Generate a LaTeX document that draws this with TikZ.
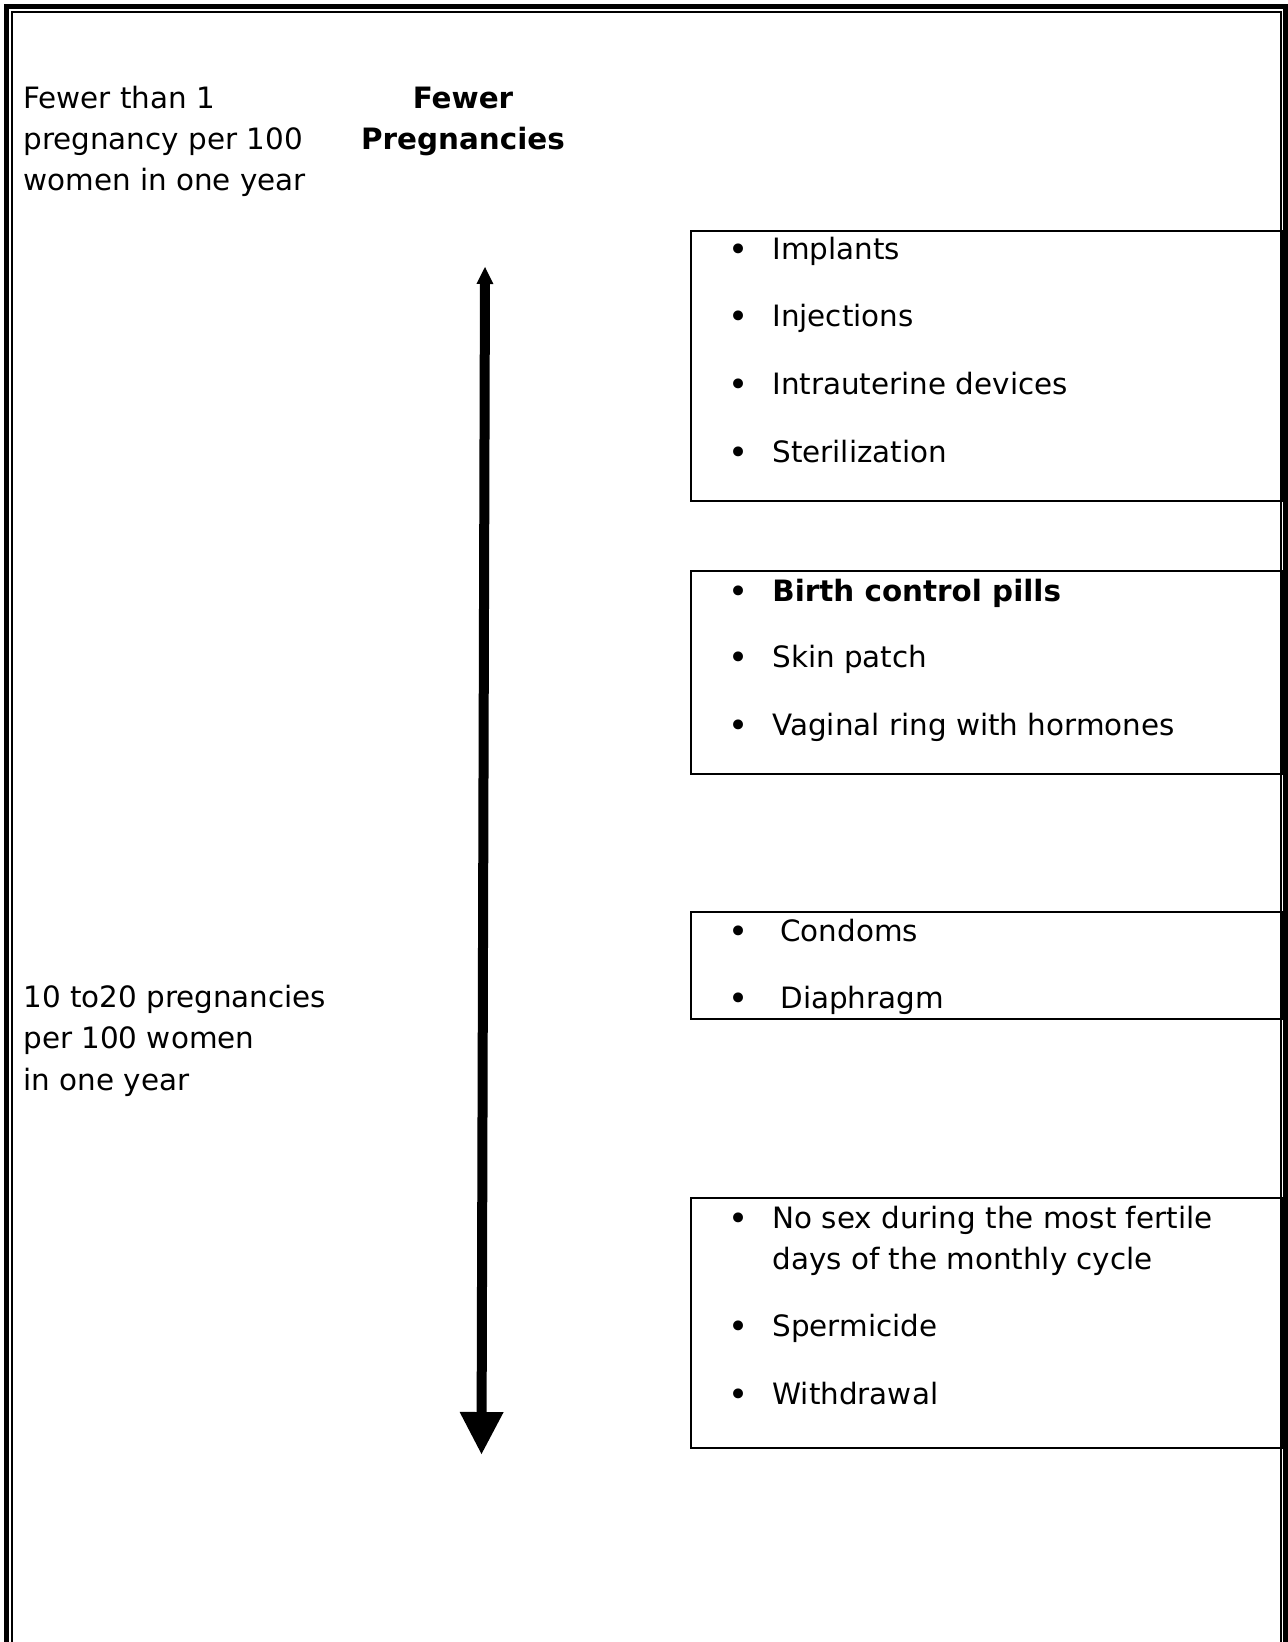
\documentclass[tikz,border=0pt]{standalone}
\usepackage{fontspec}
\setmainfont{DejaVu Sans}
\usetikzlibrary{arrows.meta,positioning}

\begin{document}
\begin{tikzpicture}[x=0.5pt,y=-0.5pt,
  txt/.style={anchor=base west,inner sep=0pt,align=left,font=\fontsize{14.7pt}{20.6pt}\selectfont},
  dot/.style={anchor=base,inner sep=0pt,yshift=-1pt,font=\fontsize{17pt}{20.6pt}\selectfont},
  panel/.style={draw,line width=1pt,anchor=north west,inner sep=0pt,minimum width=295.5pt},
  a/.style={line width=5pt,{Triangle[width=8.5pt,length=8.5pt,line width=0pt]}-{Triangle[width=22pt,length=21pt,line width=0pt]}}]
  \useasboundingbox (0,0) rectangle (1288,1642);
  % page frame, open at the bottom
  \draw[line width=2.5pt] (6.5,1642) -- (6.5,6.5) -- (1285,6.5) -- (1285,1642);
  \draw[line width=1pt] (12,1642) -- (12,12) -- (1281,12) -- (1281,1642);

  % left column (multi-line nodes sit on their last baseline)
  \node[txt] (rlow) at (23,191) {Fewer than 1\\pregnancy per 100\\women in one year};
  \node[txt,anchor=base,align=center] (fewer) at (463,150) {\textbf{Fewer}\\\textbf{Pregnancies}};
  \node[txt] (rhigh) at (23,1090) {10 to20 pregnancies\\per 100 women\\in one year};

  % scale arrow
  \coordinate (hi) at (485,267);
  \coordinate (lo) at (481.5,1454);
  \draw[a] (hi) -- (lo);

  % method boxes
  \node[panel,minimum height=135pt] (b1) at (690,230) {};
  \node[panel,minimum height=101.5pt] (b2) at (690,570) {};
  \node[panel,minimum height=53.5pt] (b3) at (690,911) {};
  \node[panel,minimum height=125pt] (b4) at (690,1197) {};

  \node[dot] (d11) at (739,259.5) {•}; \node[txt] (m11) at (772,259.5) {Implants};
  \node[dot] (d12) at (739,326.5) {•}; \node[txt] (m12) at (772,326.5) {Injections};
  \node[dot] (d13) at (739,394.5) {•}; \node[txt] (m13) at (772,394.5) {Intrauterine devices};
  \node[dot] (d14) at (739,462.5) {•}; \node[txt] (m14) at (772,462.5) {Sterilization};

  \node[dot] (d21) at (739,601.5) {•}; \node[txt] (m21) at (772,601.5) {\textbf{Birth control pills}};
  \node[dot] (d22) at (739,667.5) {•}; \node[txt] (m22) at (772,667.5) {Skin patch};
  \node[dot] (d23) at (739,735.5) {•}; \node[txt] (m23) at (772,735.5) {Vaginal ring with hormones};

  \node[dot] (d31) at (739,941.5) {•}; \node[txt] (m31) at (780,941.5) {Condoms};
  \node[dot] (d32) at (739,1008.5) {•}; \node[txt] (m32) at (780,1008.5) {Diaphragm};

  \node[dot] (d41) at (739,1228.5) {•}; \node[txt] (m41) at (772,1269.5) {No sex during the most fertile\\days of the monthly cycle};
  \node[dot] (d42) at (739,1336.5) {•}; \node[txt] (m42) at (772,1336.5) {Spermicide};
  \node[dot] (d43) at (739,1404.5) {•}; \node[txt] (m43) at (772,1404.5) {Withdrawal};
\end{tikzpicture}
\end{document}
